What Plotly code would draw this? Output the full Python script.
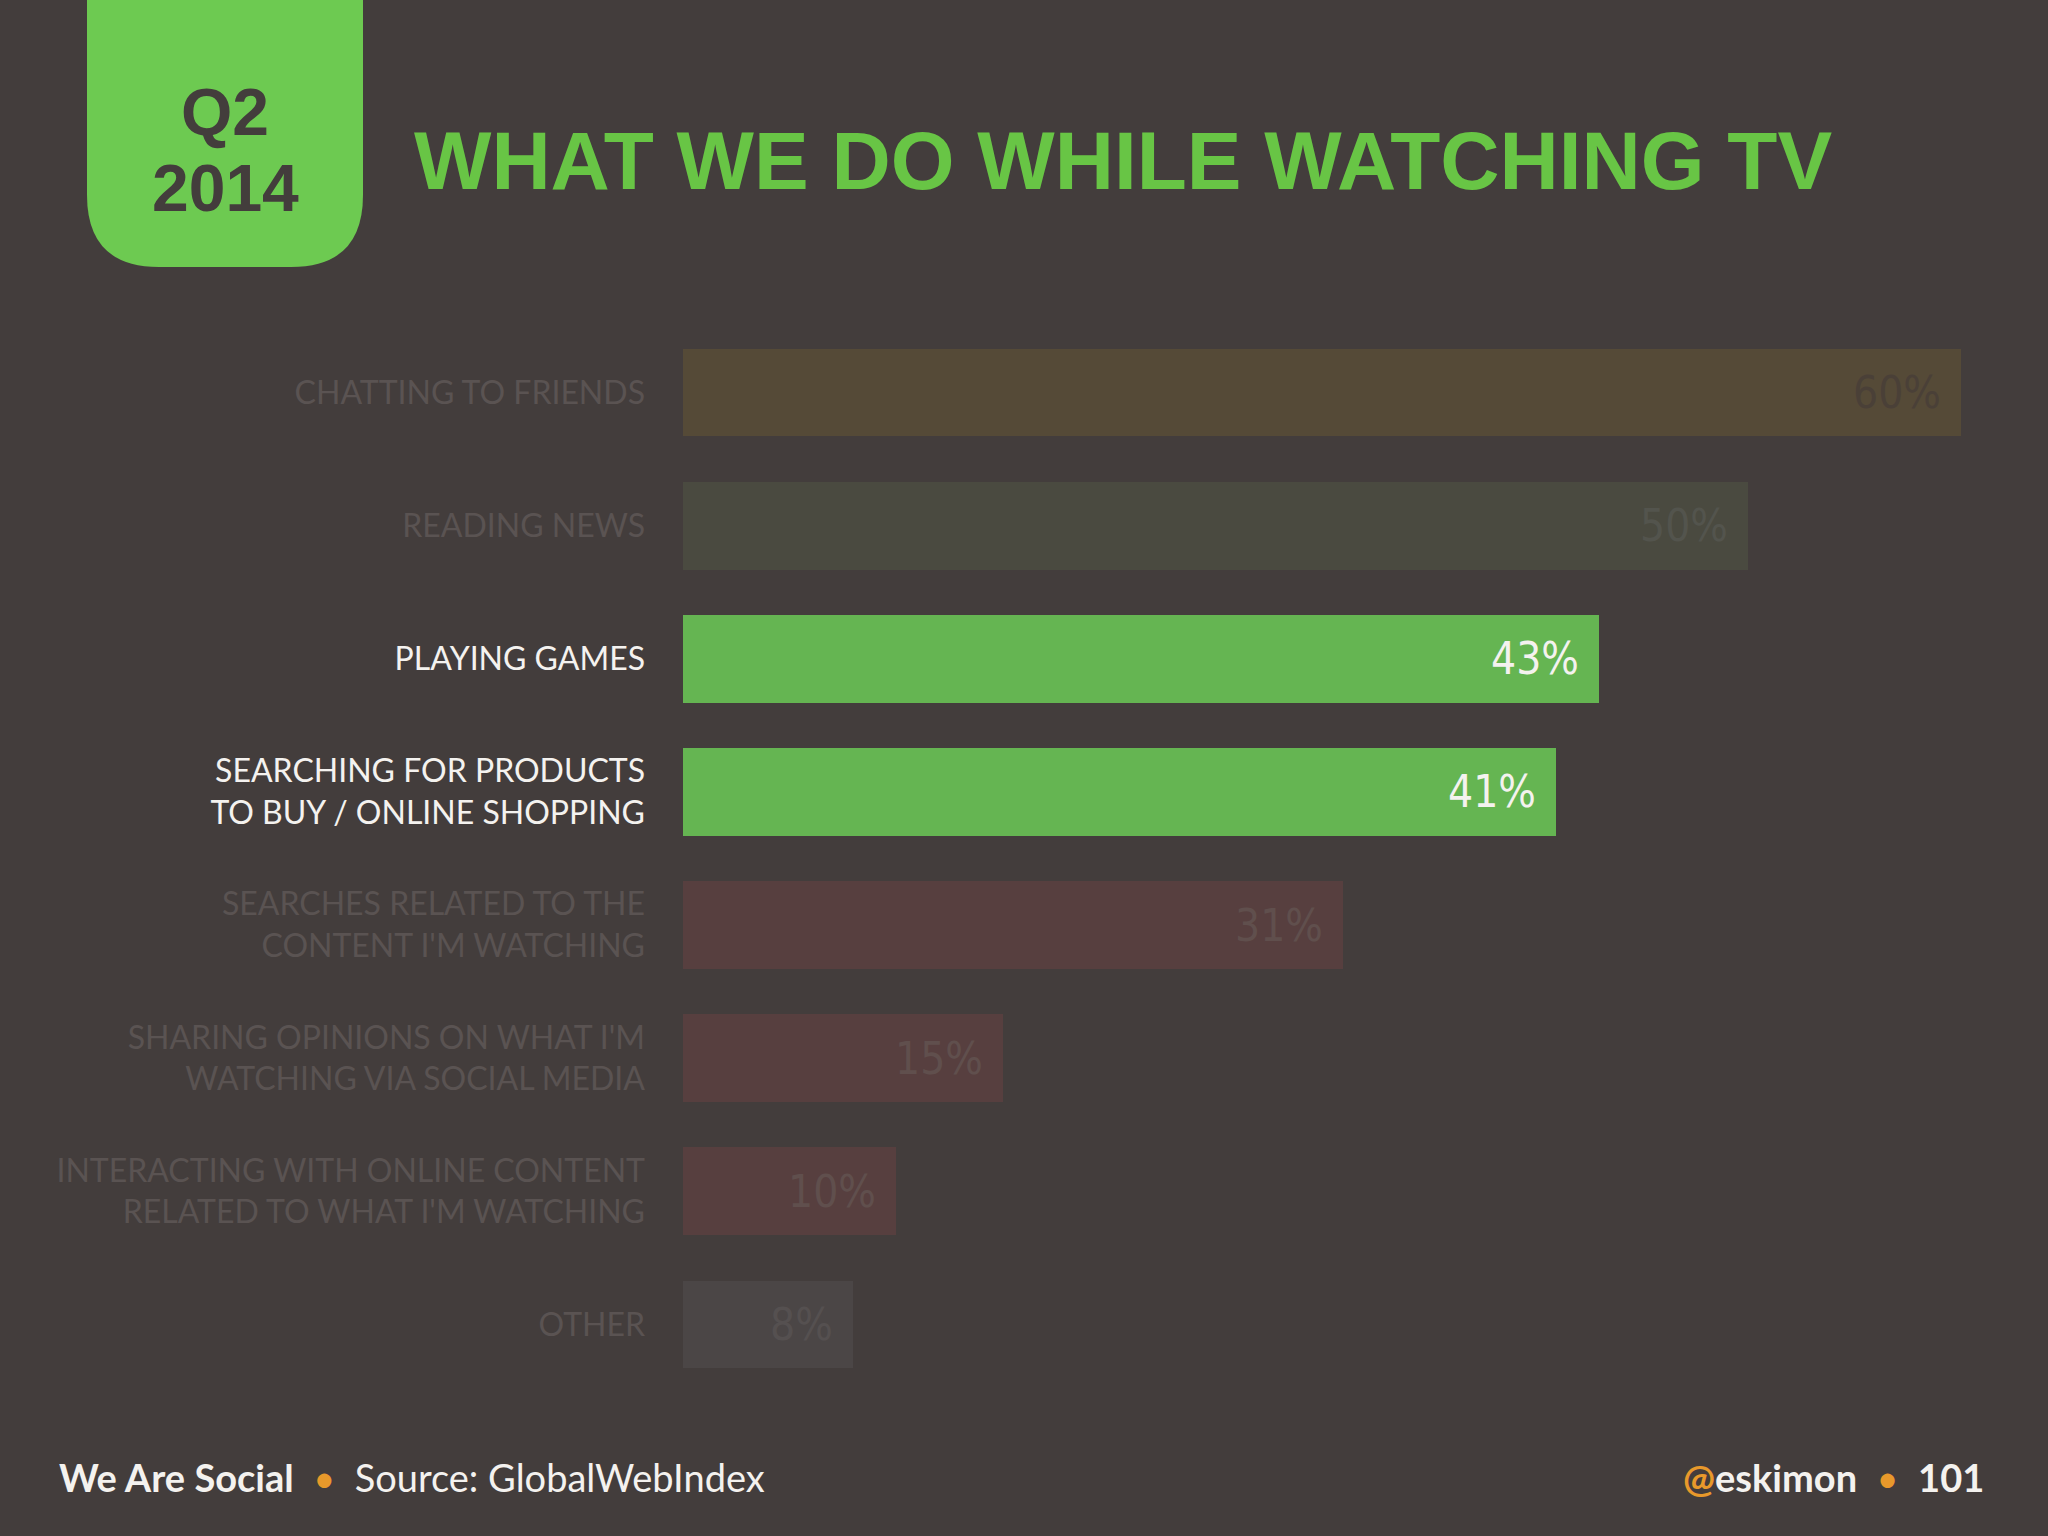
import plotly.graph_objects as go

# ---------------- data ----------------
categories = [
    "CHATTING TO FRIENDS",
    "READING NEWS",
    "PLAYING GAMES",
    "SEARCHING FOR PRODUCTS<br>TO BUY / ONLINE SHOPPING",
    "SEARCHES RELATED TO THE<br>CONTENT I'M WATCHING",
    "SHARING OPINIONS ON WHAT I'M<br>WATCHING VIA SOCIAL MEDIA",
    "INTERACTING WITH ONLINE CONTENT<br>RELATED TO WHAT I'M WATCHING",
    "OTHER",
]
values = [60, 50, 43, 41, 31, 15, 10, 8]
value_labels = ["60%", "50%", "43%", "41%", "31%", "15%", "10%", "8%"]
highlighted = [False, False, True, True, False, False, False, False]

# ---------------- styles ----------------
BG = "#433d3c"
bar_colors = ["#554a37", "#4a4a40", "#65b552", "#65b552",
              "#573f3f", "#573f3f", "#573f3f", "#4b4646"]
value_text_colors = ["#4a4037", "#53544d", "#f4f2ef", "#f4f2ef",
                     "#604f4d", "#604f4d", "#604f4d", "#555050"]
LABEL_HI = "#f4f2ef"
LABEL_LO = "#5a5352"
ORANGE = "#e8992b"
VALUE_FONT = "DejaVu Sans Condensed, Liberation Sans Narrow, sans-serif"

W, H = 2048, 1536
L, R, T, B = 683, 1961, 326, 1391  # plot area in pixels


def px(x):
    return (x - L) / (R - L)


def py(y):
    return (B - y) / (B - T)


ticktext = [
    f"<span style='color:{LABEL_HI if h else LABEL_LO}'>{c}</span>"
    for c, h in zip(categories, highlighted)
]

fig = go.Figure()
fig.add_trace(go.Bar(
    x=values,
    y=categories,
    orientation="h",
    width=0.66,
    marker=dict(color=bar_colors, line=dict(width=0)),
    hoverinfo="skip",
))

# value labels at bar ends
for cat, v, lab, col in zip(categories, values, value_labels, value_text_colors):
    fig.add_annotation(
        x=v, y=cat, xref="x", yref="y",
        text=lab, showarrow=False,
        xanchor="right", yanchor="middle", xshift=-18,
        font=dict(family=VALUE_FONT, size=44, color=col),
    )

# Title
fig.add_annotation(
    x=px(412), y=py(160), xref="paper", yref="paper",
    text="<b>WHAT WE DO WHILE WATCHING TV</b>", showarrow=False,
    xanchor="left", yanchor="middle",
    font=dict(family="Liberation Sans, Arial, sans-serif", size=82, color="#68c545"),
)

# Q2 2014 badge (rounded bottom corners)
x0, x1, y0, y1, r = 87, 363, -5, 267, 72
path = (f"M {px(x0)},{py(y0)} L {px(x1)},{py(y0)} "
        f"L {px(x1)},{py(y1 - r)} "
        f"Q {px(x1)},{py(y1)} {px(x1 - r)},{py(y1)} "
        f"L {px(x0 + r)},{py(y1)} "
        f"Q {px(x0)},{py(y1)} {px(x0)},{py(y1 - r)} Z")
fig.add_shape(type="path", path=path, xref="paper", yref="paper",
              fillcolor="#6dca51", line=dict(width=0), layer="above")
for txt, yc in (("Q2", 112), ("2014", 188)):
    fig.add_annotation(
        x=px(225), y=py(yc), xref="paper", yref="paper",
        text=f"<b>{txt}</b>", showarrow=False,
        xanchor="center", yanchor="middle",
        font=dict(family="Liberation Sans, Arial, sans-serif", size=66, color=BG),
    )

# Footer
fig.add_annotation(
    x=px(57), y=py(1477), xref="paper", yref="paper",
    text=(f"<b>We Are Social</b>  <span style='color:{ORANGE}'>•</span>  "
          "Source: GlobalWebIndex"),
    showarrow=False, xanchor="left", yanchor="middle",
    font=dict(family="Lato, sans-serif", size=38, color="#f4f2ef"),
)
fig.add_annotation(
    x=px(1986), y=py(1477), xref="paper", yref="paper",
    text=(f"<span style='color:{ORANGE}'><b>@</b></span><b>eskimon</b>  "
          f"<span style='color:{ORANGE}'>•</span>  <b>101</b>"),
    showarrow=False, xanchor="right", yanchor="middle",
    font=dict(family="Lato, sans-serif", size=38, color="#f4f2ef"),
)

fig.update_layout(
    width=W, height=H,
    paper_bgcolor=BG, plot_bgcolor=BG,
    margin=dict(l=L, r=W - R, t=T, b=H - B, pad=0),
    showlegend=False,
    bargap=0,
    xaxis=dict(range=[0, 60], visible=False, fixedrange=True),
    yaxis=dict(
        categoryorder="array", categoryarray=categories,
        autorange="reversed",
        tickvals=categories, ticktext=ticktext,
        showgrid=False, zeroline=False, showline=False, ticks="",
        ticklabelstandoff=37,
        tickfont=dict(family="Lato, sans-serif", size=32, color=LABEL_LO),
        fixedrange=True,
    ),
)

fig.write_html(
    "out.html",
    config={"displayModeBar": False},
    post_script=(
        "document.body.style.margin='0';"
        "document.body.style.background='" + BG + "';"
    ),
)
